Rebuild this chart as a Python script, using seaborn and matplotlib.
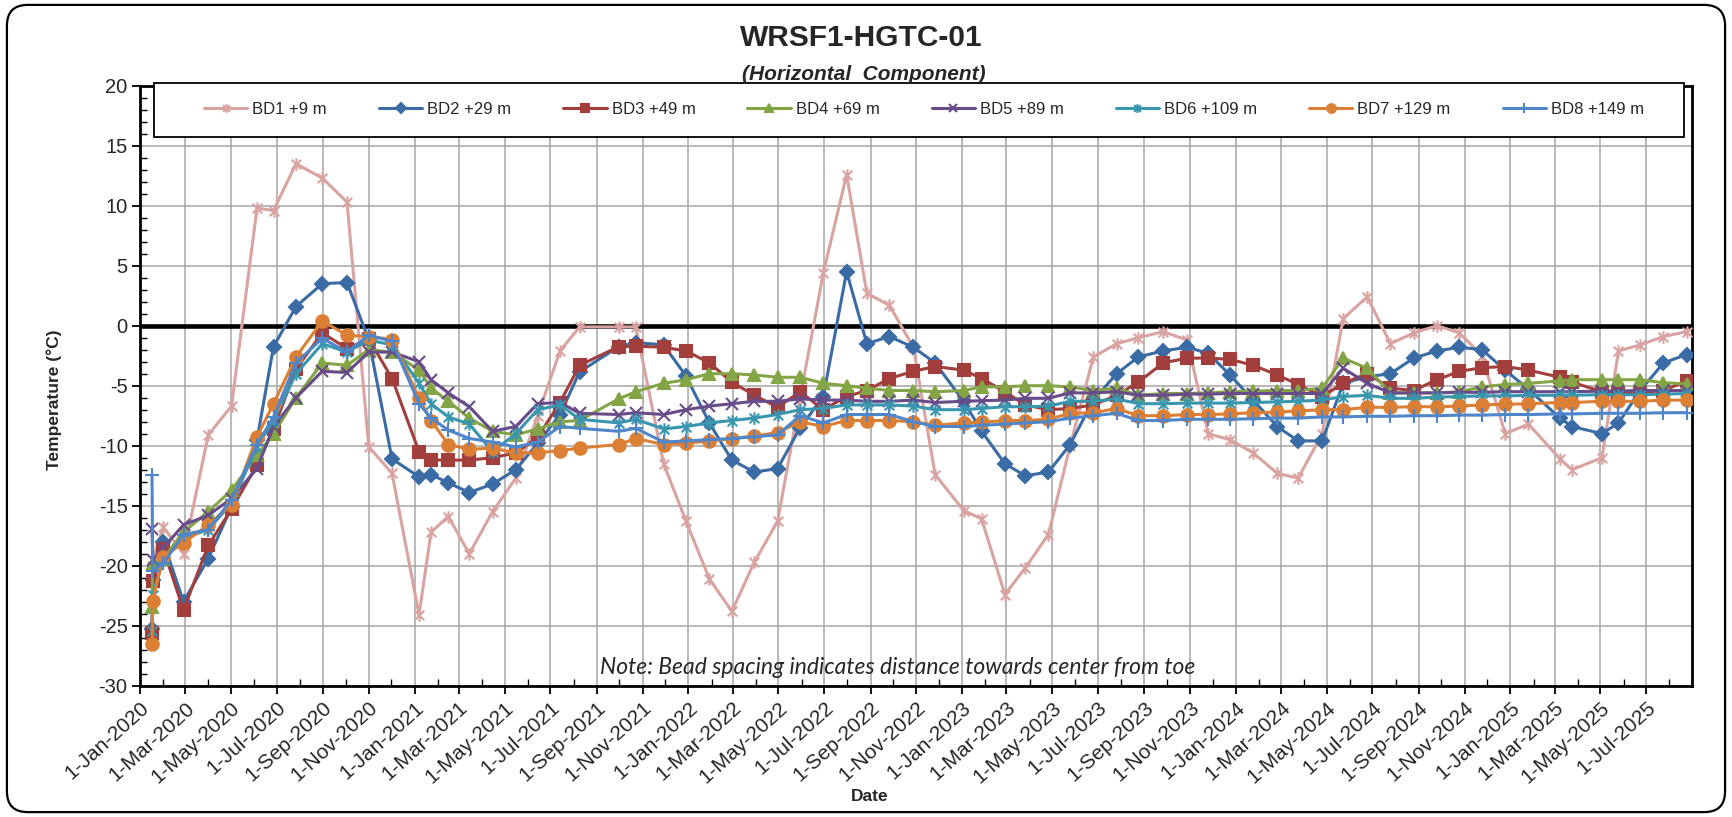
import pandas as pd
import matplotlib
matplotlib.use("Agg")
import matplotlib.pyplot as plt
import matplotlib.dates as mdates
from matplotlib.ticker import MultipleLocator
from matplotlib.path import Path
from matplotlib.patches import FancyBboxPatch, Rectangle
import seaborn as sns

# reading dates (all beads are logged on the same day)
dates = [
    "2020-01-17", "2020-01-18", "2020-02-01", "2020-02-28", "2020-04-01", "2020-05-02", "2020-06-05", "2020-06-27", "2020-07-27", "2020-08-31",
    "2020-10-03", "2020-11-01", "2020-12-02", "2021-01-07", "2021-01-23", "2021-02-15", "2021-03-15", "2021-04-15", "2021-05-16", "2021-06-14",
    "2021-07-14", "2021-08-09", "2021-09-30", "2021-10-23", "2021-11-29", "2021-12-29", "2022-01-29", "2022-02-28", "2022-03-30", "2022-04-30",
    "2022-05-30", "2022-06-30", "2022-07-31", "2022-08-27", "2022-09-26", "2022-10-28", "2022-11-26", "2023-01-03", "2023-01-27", "2023-02-27",
    "2023-03-26", "2023-04-26", "2023-05-25", "2023-06-25", "2023-07-26", "2023-08-24", "2023-09-26", "2023-10-28", "2023-11-25", "2023-12-24",
    "2024-01-24", "2024-02-25", "2024-03-24", "2024-04-25", "2024-05-23", "2024-06-24", "2024-07-25", "2024-08-25", "2024-09-25", "2024-10-25",
    "2024-11-24", "2024-12-25", "2025-01-25", "2025-03-08", "2025-03-24", "2025-05-03", "2025-05-25", "2025-06-23", "2025-07-24", "2025-08-24",
]

bd1 = [-20.0, -19.5, -16.8, -19.0, -9.1, -6.7, 9.8, 9.6, 13.5, 12.3,
       10.3, -10.1, -12.3, -24.1, -17.2, -15.9, -19.0, -15.5, -12.7, -7.5,
       -2.1, -0.1, -0.1, -0.1, -11.5, -16.3, -21.1, -23.8, -19.7, -16.3,
       -6.0, 4.4, 12.6, 2.7, 1.7, -1.8, -12.4, -15.4, -16.1, -22.4,
       -20.2, -17.4, -10.0, -2.6, -1.5, -1.0, -0.5, -1.2, -9.0, -9.5,
       -10.6, -12.3, -12.7, -9.0, 0.6, 2.4, -1.5, -0.6, 0.0, -0.6,
       -2.5, -9.0, -8.2, -11.1, -12.0, -11.0, -2.1, -1.6, -0.9, -0.5]

bd2 = [-25.3, -21.2, -18.0, -23.0, -19.4, -15.1, -9.5, -1.75, 1.6, 3.5,
       3.6, -1.2, -11.1, -12.6, -12.4, -13.1, -13.9, -13.2, -12.0, -9.8,
       -7.4, -3.85, -1.75, -1.4, -1.6, -4.2, -8.1, -11.2, -12.2, -11.9,
       -8.5, -5.9, 4.5, -1.5, -0.9, -1.8, -3.1, -6.3, -8.8, -11.5,
       -12.5, -12.2, -9.9, -6.2, -4.0, -2.6, -2.1, -1.8, -2.3, -4.1,
       -6.2, -8.4, -9.6, -9.6, -4.8, -4.25, -4.0, -2.7, -2.1, -1.8,
       -2.0, -3.7, -5.3, -7.7, -8.4, -9.0, -8.1, -5.4, -3.1, -2.4]

bd3 = [-25.6, -21.3, -18.6, -23.7, -18.3, -15.3, -11.6, -8.6, -3.6, -0.6,
       -1.9, -1.1, -4.4, -10.5, -11.2, -11.2, -11.2, -11.0, -10.6, -9.3,
       -6.4, -3.3, -1.75, -1.7, -1.8, -2.1, -3.1, -4.7, -5.8, -6.8,
       -5.5, -7.0, -5.9, -5.4, -4.4, -3.8, -3.4, -3.7, -4.4, -5.5,
       -6.6, -7.0, -6.9, -6.6, -5.8, -4.7, -3.1, -2.7, -2.7, -2.8,
       -3.3, -4.1, -4.9, -5.9, -4.8, -4.0, -5.2, -5.4, -4.5, -3.8,
       -3.5, -3.4, -3.7, -4.3, -4.7, -5.5, -5.6, -5.6, -5.4, -4.6]

bd4 = [-23.4, -19.8, -19.4, -17.2, -15.5, -13.7, -10.8, -9.0, -6.0, -3.1,
       -3.3, -2.0, -2.2, -3.7, -5.2, -6.3, -7.7, -8.8, -9.1, -8.6,
       -8.0, -7.9, -6.1, -5.5, -4.8, -4.5, -4.0, -4.0, -4.1, -4.3,
       -4.3, -4.8, -5.0, -5.2, -5.4, -5.4, -5.5, -5.4, -5.1, -5.1,
       -5.0, -5.0, -5.1, -5.4, -5.2, -5.8, -5.65, -5.65, -5.6, -5.5,
       -5.45, -5.4, -5.4, -5.2, -2.7, -3.55, -5.6, -5.6, -5.6, -5.5,
       -5.1, -4.9, -4.8, -4.6, -4.5, -4.5, -4.5, -4.5, -4.75, -4.85]

bd5 = [-16.9, -19.5, -18.5, -16.6, -15.8, -14.4, -11.9, -8.4, -6.0, -3.8,
       -3.9, -2.2, -2.2, -3.0, -4.5, -5.6, -6.75, -8.8, -8.4, -6.5,
       -6.4, -7.3, -7.4, -7.25, -7.4, -7.0, -6.7, -6.5, -6.3, -6.3,
       -6.1, -6.2, -6.2, -6.3, -6.3, -6.2, -6.4, -6.3, -6.25, -6.2,
       -6.05, -6.05, -5.6, -5.6, -5.5, -5.8, -5.8, -5.7, -5.7, -5.65,
       -5.65, -5.65, -5.65, -5.65, -3.55, -4.8, -5.6, -5.6, -5.6, -5.55,
       -5.55, -5.5, -5.5, -5.5, -5.5, -5.45, -5.45, -5.4, -5.4, -5.4]

bd6 = [-25.4, -22.4, -19.5, -17.7, -17.0, -14.8, -10.1, -7.9, -4.0, -1.5,
       -2.2, -1.2, -1.6, -4.8, -6.5, -7.6, -8.2, -10.5, -9.0, -7.0,
       -6.6, -7.8, -8.1, -7.8, -8.6, -8.4, -8.1, -7.9, -7.7, -7.4,
       -7.0, -6.9, -6.6, -6.6, -6.6, -6.7, -7.0, -7.0, -6.9, -6.75,
       -6.75, -6.7, -6.3, -6.3, -6.1, -6.5, -6.5, -6.45, -6.45, -6.45,
       -6.4, -6.35, -6.3, -6.2, -5.9, -5.8, -6.05, -6.05, -5.95, -5.9,
       -5.85, -5.85, -5.8, -5.8, -5.8, -5.75, -5.75, -5.75, -5.7, -5.65]

bd7 = [-26.5, -22.9, -19.25, -18.1, -16.6, -14.9, -9.25, -6.5, -2.6, 0.4,
       -0.8, -0.9, -1.15, -6.05, -7.9, -9.9, -10.3, -10.2, -10.6, -10.6,
       -10.4, -10.2, -9.9, -9.4, -9.9, -9.8, -9.6, -9.4, -9.2, -8.9,
       -8.0, -8.4, -7.9, -7.9, -7.9, -8.0, -8.3, -8.1, -8.05, -7.9,
       -7.9, -7.8, -7.3, -7.25, -6.9, -7.5, -7.5, -7.4, -7.4, -7.35,
       -7.25, -7.2, -7.1, -7.0, -7.0, -6.8, -6.8, -6.75, -6.75, -6.7,
       -6.6, -6.55, -6.5, -6.4, -6.4, -6.3, -6.3, -6.3, -6.2, -6.2]

bd8 = [-12.4, -20.4, -19.8, -17.4, -17.0, -14.5, -9.9, -7.6, -3.1, -1.05,
       -2.2, -0.8, -1.3, -6.5, -7.7, -8.7, -9.4, -9.7, -10.1, -9.7,
       -8.4, -8.55, -8.8, -8.55, -9.7, -9.6, -9.5, -9.4, -9.25, -9.1,
       -7.5, -8.1, -7.4, -7.4, -7.4, -8.0, -8.4, -8.4, -8.3, -8.2,
       -8.1, -8.0, -7.7, -7.5, -7.3, -7.9, -7.9, -7.8, -7.8, -7.8,
       -7.75, -7.7, -7.7, -7.6, -7.6, -7.55, -7.55, -7.5, -7.5, -7.45,
       -7.45, -7.4, -7.4, -7.35, -7.35, -7.3, -7.3, -7.3, -7.25, -7.25]

labels = ["BD1 +9 m", "BD2 +29 m", "BD3 +49 m", "BD4 +69 m",
          "BD5 +89 m", "BD6 +109 m", "BD7 +129 m", "BD8 +149 m"]
series = [bd1, bd2, bd3, bd4, bd5, bd6, bd7, bd8]

# excel style star: an x with a vertical bar through it
star = Path([(-1, -1), (1, 1), (-1, 1), (1, -1), (0, -1.3), (0, 1.3)],
            [Path.MOVETO, Path.LINETO, Path.MOVETO, Path.LINETO, Path.MOVETO, Path.LINETO])

colors = ["#D9A3A2", "#3A6BA5", "#A23E3C", "#84A546", "#684B89", "#3896AE", "#DB7F35", "#4F86CA"]
markers = [star, "D", "s", "^", "x", star, "o", "+"]
msizes = [9, 7.5, 8.5, 9, 9, 9, 9, 10]

sns.set_theme(style="white")
plt.rcParams["font.family"] = ["Liberation Sans", "DejaVu Sans"]
plt.rcParams["axes.unicode_minus"] = False

W, H = 1732, 817
fig = plt.figure(figsize=(W / 100, H / 100), dpi=100)
ax = fig.add_axes([140 / W, 1 - 685.7 / H, 1552 / W, 600 / H])

df = pd.DataFrame({"Date": pd.to_datetime(dates)})
for name, vals, c, mk, ms in zip(labels, series, colors, markers, msizes):
    df[name] = vals
    sns.lineplot(data=df, x="Date", y=name, ax=ax, color=c, lw=2.2, marker=mk,
                 markersize=ms, markeredgecolor=c, markerfacecolor=c,
                 markeredgewidth=1.5, label=name, estimator=None,
                 errorbar=None, sort=False, zorder=3)

ax.axhline(0, color="black", lw=3.3, zorder=2)

ax.set_xlim(pd.Timestamp("2020-01-01"), pd.Timestamp("2025-08-31"))
ax.set_ylim(-30, 20)
ax.yaxis.set_major_locator(MultipleLocator(5))
ax.yaxis.set_minor_locator(MultipleLocator(1))
ax.xaxis.set_major_locator(mdates.MonthLocator(bymonth=[1, 3, 5, 7, 9, 11]))
ax.xaxis.set_minor_locator(mdates.MonthLocator())
ax.xaxis.set_major_formatter(mdates.DateFormatter("%-d-%b-%Y"))

ax.grid(True, which="major", color="#a6a6a6", lw=1.1)
ax.set_axisbelow(True)
ax.tick_params(which="major", direction="out", length=6, width=1.3, color="black",
               labelsize=15, pad=3, left=True, bottom=True)
ax.tick_params(which="minor", direction="in", length=5, width=1.0, color="black",
               left=True, bottom=True)
ax.tick_params(axis="y", labelsize=14.5)
for lab in ax.get_xticklabels():
    lab.set_rotation(42)
    lab.set_ha("right")
    lab.set_rotation_mode("anchor")
for sp in ax.spines.values():
    sp.set_color("black")
    sp.set_linewidth(2)

ax.set_xlabel("Date", fontsize=12.5, fontweight="bold")
ax.set_ylabel("Temperature (°C)", fontsize=12.5, fontweight="bold")
ax.xaxis.set_label_coords(0.5 - 46 / 1552, -0.172)
ax.yaxis.set_label_coords(-0.0505, 0.477)

# legend box with evenly spread entries
ax.add_patch(Rectangle((154 / W, 1 - 136.5 / H), 1530 / W, 53.5 / H, transform=fig.transFigure,
                       facecolor="white", edgecolor="black", lw=1.3, clip_on=False, zorder=9))
leg = ax.legend(loc="center", bbox_to_anchor=(204 / W, 1 - 136.5 / H, 1440 / W, 53.5 / H),
                bbox_transform=fig.transFigure, mode="expand", ncol=8, fontsize=12,
                frameon=False, handlelength=2.6, handletextpad=0.3, markerscale=0.7,
                borderaxespad=0, borderpad=0)
leg.set_zorder(10)

fig.text(0.497, 0.953, "WRSF1-HGTC-01", ha="center", va="center",
         fontsize=21.5, fontweight="bold")
fig.text(0.4985, 0.9085, "(Horizontal  Component)", ha="center", va="center",
         fontsize=15, fontweight="bold", fontstyle="italic")
fig.text(600 / W, 1 - 667 / H, "Note: Bead spacing indicates distance towards center from toe",
         ha="left", va="center", fontsize=16.5, fontstyle="italic", family=["Lato", "DejaVu Sans"])

# rounded chart-area border
fig.patches.append(FancyBboxPatch((0.004, 0.006), 0.992, 0.988, transform=fig.transFigure,
                                  boxstyle="round,pad=0,rounding_size=0.012",
                                  mutation_aspect=W / H, fill=False, ec="black", lw=1.6))

fig.savefig("out.png", dpi=100)
